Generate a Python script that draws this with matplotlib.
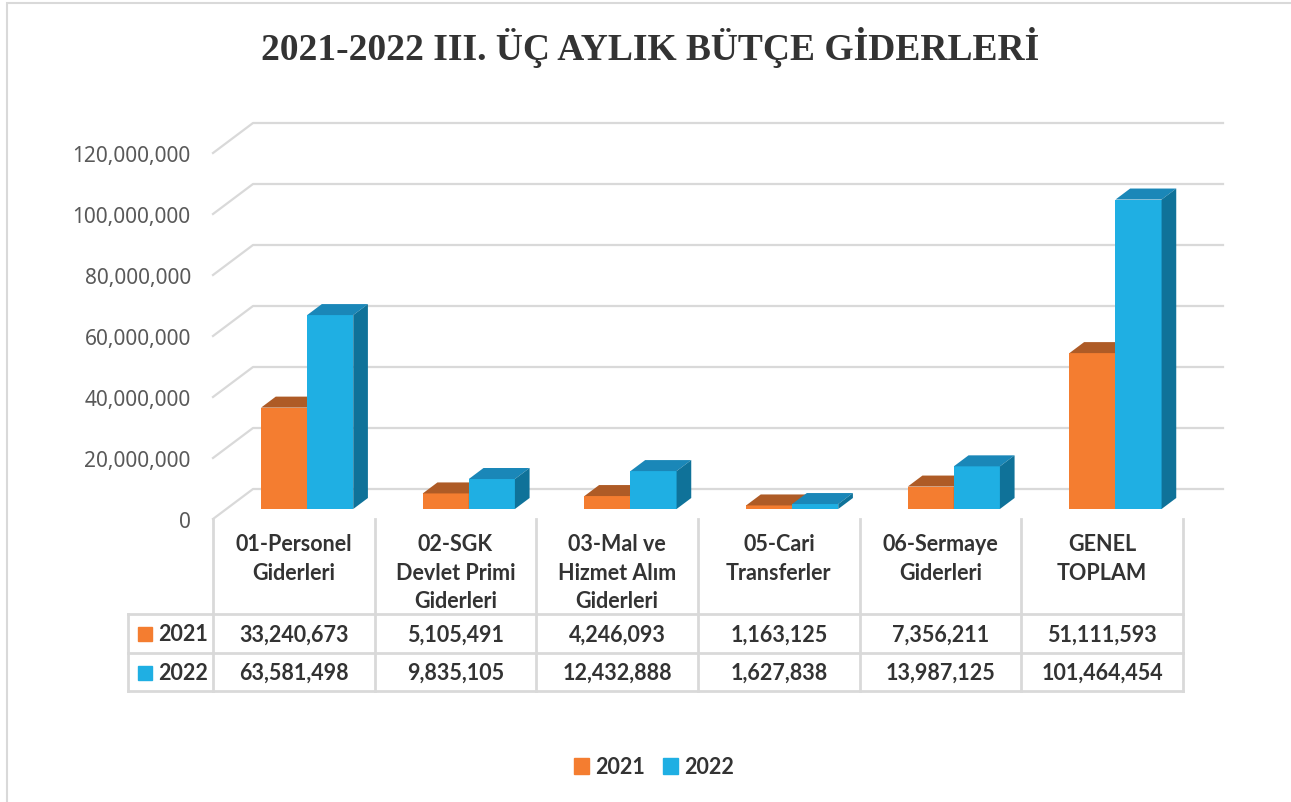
import matplotlib.pyplot as plt
from matplotlib.patches import Rectangle, Patch

# veriler
categories = ['01-Personel\nGiderleri', '02-SGK\nDevlet Primi\nGiderleri',
              '03-Mal ve\nHizmet Alım\nGiderleri', '05-Cari\nTransferler',
              '06-Sermaye\nGiderleri', 'GENEL\nTOPLAM']
series_names = ['2021', '2022']
values_2021 = [33240673, 5105491, 4246093, 1163125, 7356211, 51111593]
values_2022 = [63581498, 9835105, 12432888, 1627838, 13987125, 101464454]
yticks = [0, 20000000, 40000000, 60000000, 80000000, 100000000, 120000000]

title = '2021-2022 III. ÜÇ AYLIK BÜTÇE GİDERLERİ'

# renkler
front_col = ['#F47D30', '#1FAFE3']
top_col = ['#AE5B26', '#1A87B8']
side_col = ['#8E4A1F', '#0F7299']
grid_col = '#D9D9D9'
text_col = '#333333'
tick_col = '#595959'

FONT = 'Noto Sans'
BFONT = ['Lato', 'DejaVu Sans']
W, H = 1291, 803
fig = plt.figure(figsize=(W / 100, H / 100), dpi=100)

# dış çerçeve
fig.patches.append(Rectangle((7 / W, -0.1), 1.2, 1.1 - 4 / H, transform=fig.transFigure,
                             fill=False, edgecolor='#D9D9D9', linewidth=1.5))

fig.text(650 / W, 1 - 47 / H, title, ha='center', va='center', fontsize=27,
         fontweight='bold', family='Liberation Serif', color=text_col)

# ana eksen (ön düzlem)
col_w = 161.67
ax = fig.add_axes([213 / W, (H - 520) / H, 970 / W, 366 / H])
ax.set_xlim(-0.5, 5.5)
ax.set_ylim(0, 120000000)
for s in ax.spines.values():
    s.set_visible(False)
ax.set_xticks([])
ax.set_yticks(yticks)
ax.set_yticklabels([f'{t:,}' for t in yticks], fontsize=15, color=tick_col, family=FONT)
ax.tick_params(axis='y', length=0, pad=16)
ax.patch.set_visible(False)

DX = 40 / col_w
DY = 30 * 120000000 / 366


def proj(x, v, d):
    return (x + DX * d, v + DY * d)


# arka duvar ızgara çizgileri
for t in yticks:
    p0 = proj(-0.5, t, 0)
    p1 = proj(-0.5, t, 1)
    p2 = proj(5.5, t, 1)
    ax.plot([p0[0], p1[0], p2[0]], [p0[1], p1[1], p2[1]], color=grid_col,
            linewidth=1.6, clip_on=False, zorder=1)

# 3B çubuklar
d0, d1 = 1 / 3, 0.7
bw = 0.285
for i in range(len(categories)):
    for k, vals in enumerate([values_2021, values_2022]):
        v = vals[i]
        x0 = i - bw + k * bw
        x1 = x0 + bw
        z = 3 + i * 2 + k
        ax.bar(x0 + DX * d0, v, width=bw, bottom=DY * d0, align='edge',
               color=front_col[k], zorder=z, clip_on=False)
        top = [proj(x0, v, d0), proj(x1, v, d0), proj(x1, v, d1), proj(x0, v, d1)]
        ax.fill([p[0] for p in top], [p[1] for p in top], color=top_col[k],
                zorder=z, clip_on=False, linewidth=0)
        side = [proj(x1, 0, d0), proj(x1, 0, d1), proj(x1, v, d1), proj(x1, v, d0)]
        ax.fill([p[0] for p in side], [p[1] for p in side], color=side_col[k],
                zorder=z, clip_on=False, linewidth=0)

# veri tablosu
lab_w = 85 / col_w
tax = fig.add_axes([128 / W, (H - 692) / H, 1055 / W, 172 / H])
tax.set_xlim(-0.5 - lab_w, 5.5)
tax.set_ylim(172, 0)
tax.axis('off')
row_y = [95, 134, 172]
lw = 2
for j in range(len(categories) + 1):
    tax.plot([j - 0.5, j - 0.5], [0, 172], color=grid_col, linewidth=lw, clip_on=False)
tax.plot([-0.5 - lab_w, -0.5 - lab_w], [95, 172], color=grid_col, linewidth=lw, clip_on=False)
for y in row_y:
    tax.plot([-0.5 - lab_w, 5.5], [y, y], color=grid_col, linewidth=lw, clip_on=False)

tfs = 15.5
for i, c in enumerate(categories):
    tax.text(i, 14, c, ha='center', va='top', fontsize=tfs, fontweight='bold',
             color=text_col, family=BFONT, linespacing=1.45)
    tax.text(i, 115, f'{values_2021[i]:,}', ha='center', va='center', fontsize=tfs,
             fontweight='bold', color=text_col, family=BFONT)
    tax.text(i, 153.5, f'{values_2022[i]:,}', ha='center', va='center', fontsize=tfs,
             fontweight='bold', color=text_col, family=BFONT)

for k, (name, ry) in enumerate(zip(series_names, [115, 153.5])):
    x_sq = -0.5 - lab_w + 10 / col_w
    tax.add_patch(Rectangle((x_sq, ry - 7), 14 / col_w, 14, color=front_col[k], clip_on=False))
    tax.text(x_sq + 20 / col_w, ry, name, ha='left', va='center', fontsize=tfs,
             fontweight='bold', color=text_col, family=BFONT)

# gösterge
handles = [Patch(color=front_col[0]), Patch(color=front_col[1])]
leg = fig.legend(handles, series_names, loc='center', bbox_to_anchor=(654 / W, 1 - 768 / H),
                 ncol=2, frameon=False, handlelength=0.7, handleheight=0.7,
                 handletextpad=0.3, columnspacing=0.8,
                 prop={'family': BFONT, 'size': tfs, 'weight': 'bold'})
for t in leg.get_texts():
    t.set_color(text_col)

fig.savefig('out.png', dpi=100, facecolor='white')
